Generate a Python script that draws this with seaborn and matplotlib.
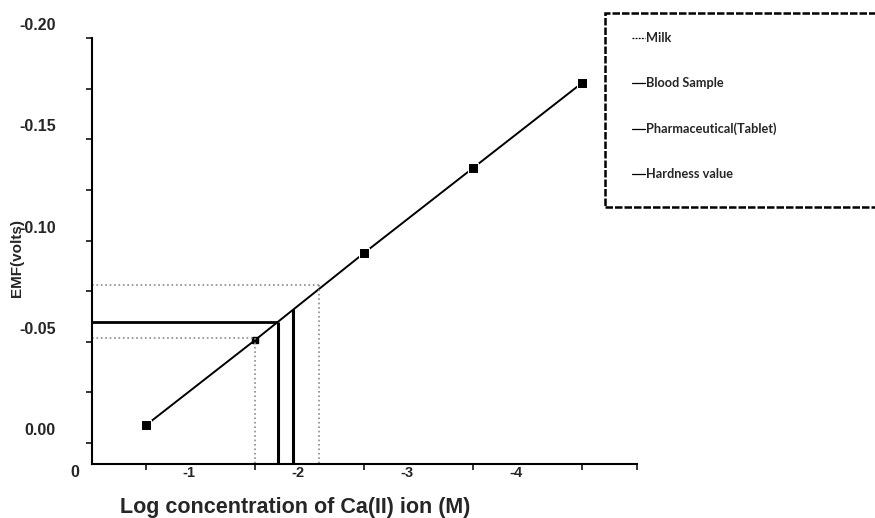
import numpy as np
import pandas as pd
import matplotlib.pyplot as plt
import matplotlib.transforms as mtransforms
from matplotlib.lines import Line2D
from matplotlib.patches import Rectangle
import seaborn as sns

# calibration curve (log conc vs EMF)
log_conc = [-0.5, -1.5, -2.5, -3.5, -4.5]
emf = [-0.009, -0.051, -0.094, -0.136, -0.178]

# samples
sample_names = ["Milk", "Blood Sample", "Pharmaceutical(Tablet)", "Hardness value"]
sample_x = [-1.50, -1.71, -1.84, -2.08]
sample_emf = [-0.052, -0.060, -0.066, -0.078]

y_ticks = [0.00, -0.05, -0.10, -0.15, -0.20]
y_ticklabels = ["0.00", "-0.05", "-0.10", "-0.15", "-0.20"]
x_ticks = [-1, -2, -3, -4]
x_ticklabels = ["-1", "-2", "-3", "-4"]

sns.set_style("ticks")
plt.rcParams['font.family'] = ['Liberation Sans', 'DejaVu Sans']

fig = plt.figure(figsize=(8.75, 5.18), dpi=100)
ax = fig.add_axes([0.1051, 0.1052, 0.6229, 0.8214])

y_bot = 0.0101
ax.set_xlim(0, -5.0)
ax.set_ylim(y_bot, -0.20)

df = pd.DataFrame({"x": log_conc, "y": emf})
sns.lineplot(data=df, x="x", y="y", ax=ax, color="black", lw=1.4,
             marker="s", markersize=6.5, markevery=[0, 2, 3, 4], sort=False)
# small marker for the milk point
ax.plot(log_conc[1], emf[1], marker="s", markersize=4, color="black")

# Milk - dotted
ax.hlines(sample_emf[0], 0, sample_x[0], colors="#8a8a8a", lw=1.2, linestyles=":")
ax.vlines(sample_x[0], sample_emf[0], y_bot, colors="#8a8a8a", lw=1.2, linestyles=":")
# Blood - solid
ax.hlines(sample_emf[1], 0, sample_x[1], colors="black", lw=2)
ax.vlines(sample_x[1], sample_emf[1], y_bot, colors="black", lw=2.2)
# Pharmaceutical - solid vertical only
ax.vlines(sample_x[2], sample_emf[2], y_bot, colors="black", lw=2.2)
# Hardness - dotted
ax.hlines(sample_emf[3], 0, sample_x[3], colors="#8a8a8a", lw=1.2, linestyles=":")
ax.vlines(sample_x[3], sample_emf[3], y_bot, colors="#8a8a8a", lw=1.2, linestyles=":")

sns.despine(ax=ax)
for s in ["left", "bottom"]:
    ax.spines[s].set_linewidth(1.5)
    ax.spines[s].set_color("black")

# y ticks
ax.set_yticks(y_ticks, labels=y_ticklabels)
ax.set_yticks([-0.025, -0.075, -0.125, -0.175], minor=True)
ax.tick_params(axis="y", which="both", direction="out", length=4, width=1.1,
               color="black")
ax.tick_params(axis="y", which="major", pad=22, labelsize=11.5)
for lab in ax.get_yticklabels():
    lab.set_fontweight("bold")
    lab.set_transform(lab.get_transform() +
                      mtransforms.ScaledTranslation(0, 0.14, fig.dpi_scale_trans))

# x ticks: marks at half steps, labels at integers
ax.set_xticks([-0.5, -1.5, -2.5, -3.5, -4.5, -5.0], labels=[""] * 6)
ax.set_xticks(x_ticks, labels=x_ticklabels, minor=True)
ax.tick_params(axis="x", which="major", direction="out", length=4, width=1.1,
               color="black")
ax.tick_params(axis="x", which="minor", length=0, pad=2, labelsize=10.5)
for lab in ax.get_xticklabels(minor=True):
    lab.set_fontweight("bold")
    lab.set_transform(lab.get_transform() +
                      mtransforms.ScaledTranslation(-0.12, 0, fig.dpi_scale_trans))

ax.text(-0.031, -0.02, "0", transform=ax.transAxes, ha="center", va="center",
        fontsize=11.5, fontweight="bold")

ax.set_xlabel("")
ax.set_ylabel("")
fig.text(0.337, 0.021, "Log concentration of Ca(II) ion (M)", ha="center",
         va="center", fontsize=15.5, fontweight="bold")
fig.text(0.019, 0.502, "EMF(volts)", rotation=90, ha="center", va="center",
         fontsize=11, fontweight="bold")

# legend with dashed box
handles = [
    Line2D([], [], color="black", lw=0.9, ls=(0, (1.5, 1))),
    Line2D([], [], color="black", lw=0.9),
    Line2D([], [], color="black", lw=0.9),
    Line2D([], [], color="black", lw=0.9),
]
fig.legend(handles, sample_names, loc="upper left",
           bbox_to_anchor=(0.722, 0.938), frameon=False, borderpad=0,
           borderaxespad=0, handlelength=1.0, handletextpad=0.15,
           labelspacing=2.6,
           prop={"family": ["Lato", "DejaVu Sans"], "weight": "bold", "size": 9.2})
fig.add_artist(Rectangle((0.6914, 0.6004), 0.32, 0.3745,
                         transform=fig.transFigure, fill=False,
                         edgecolor="black", lw=1.8, ls=(0, (3, 0.8))))

fig.savefig("out.png", dpi=100)
